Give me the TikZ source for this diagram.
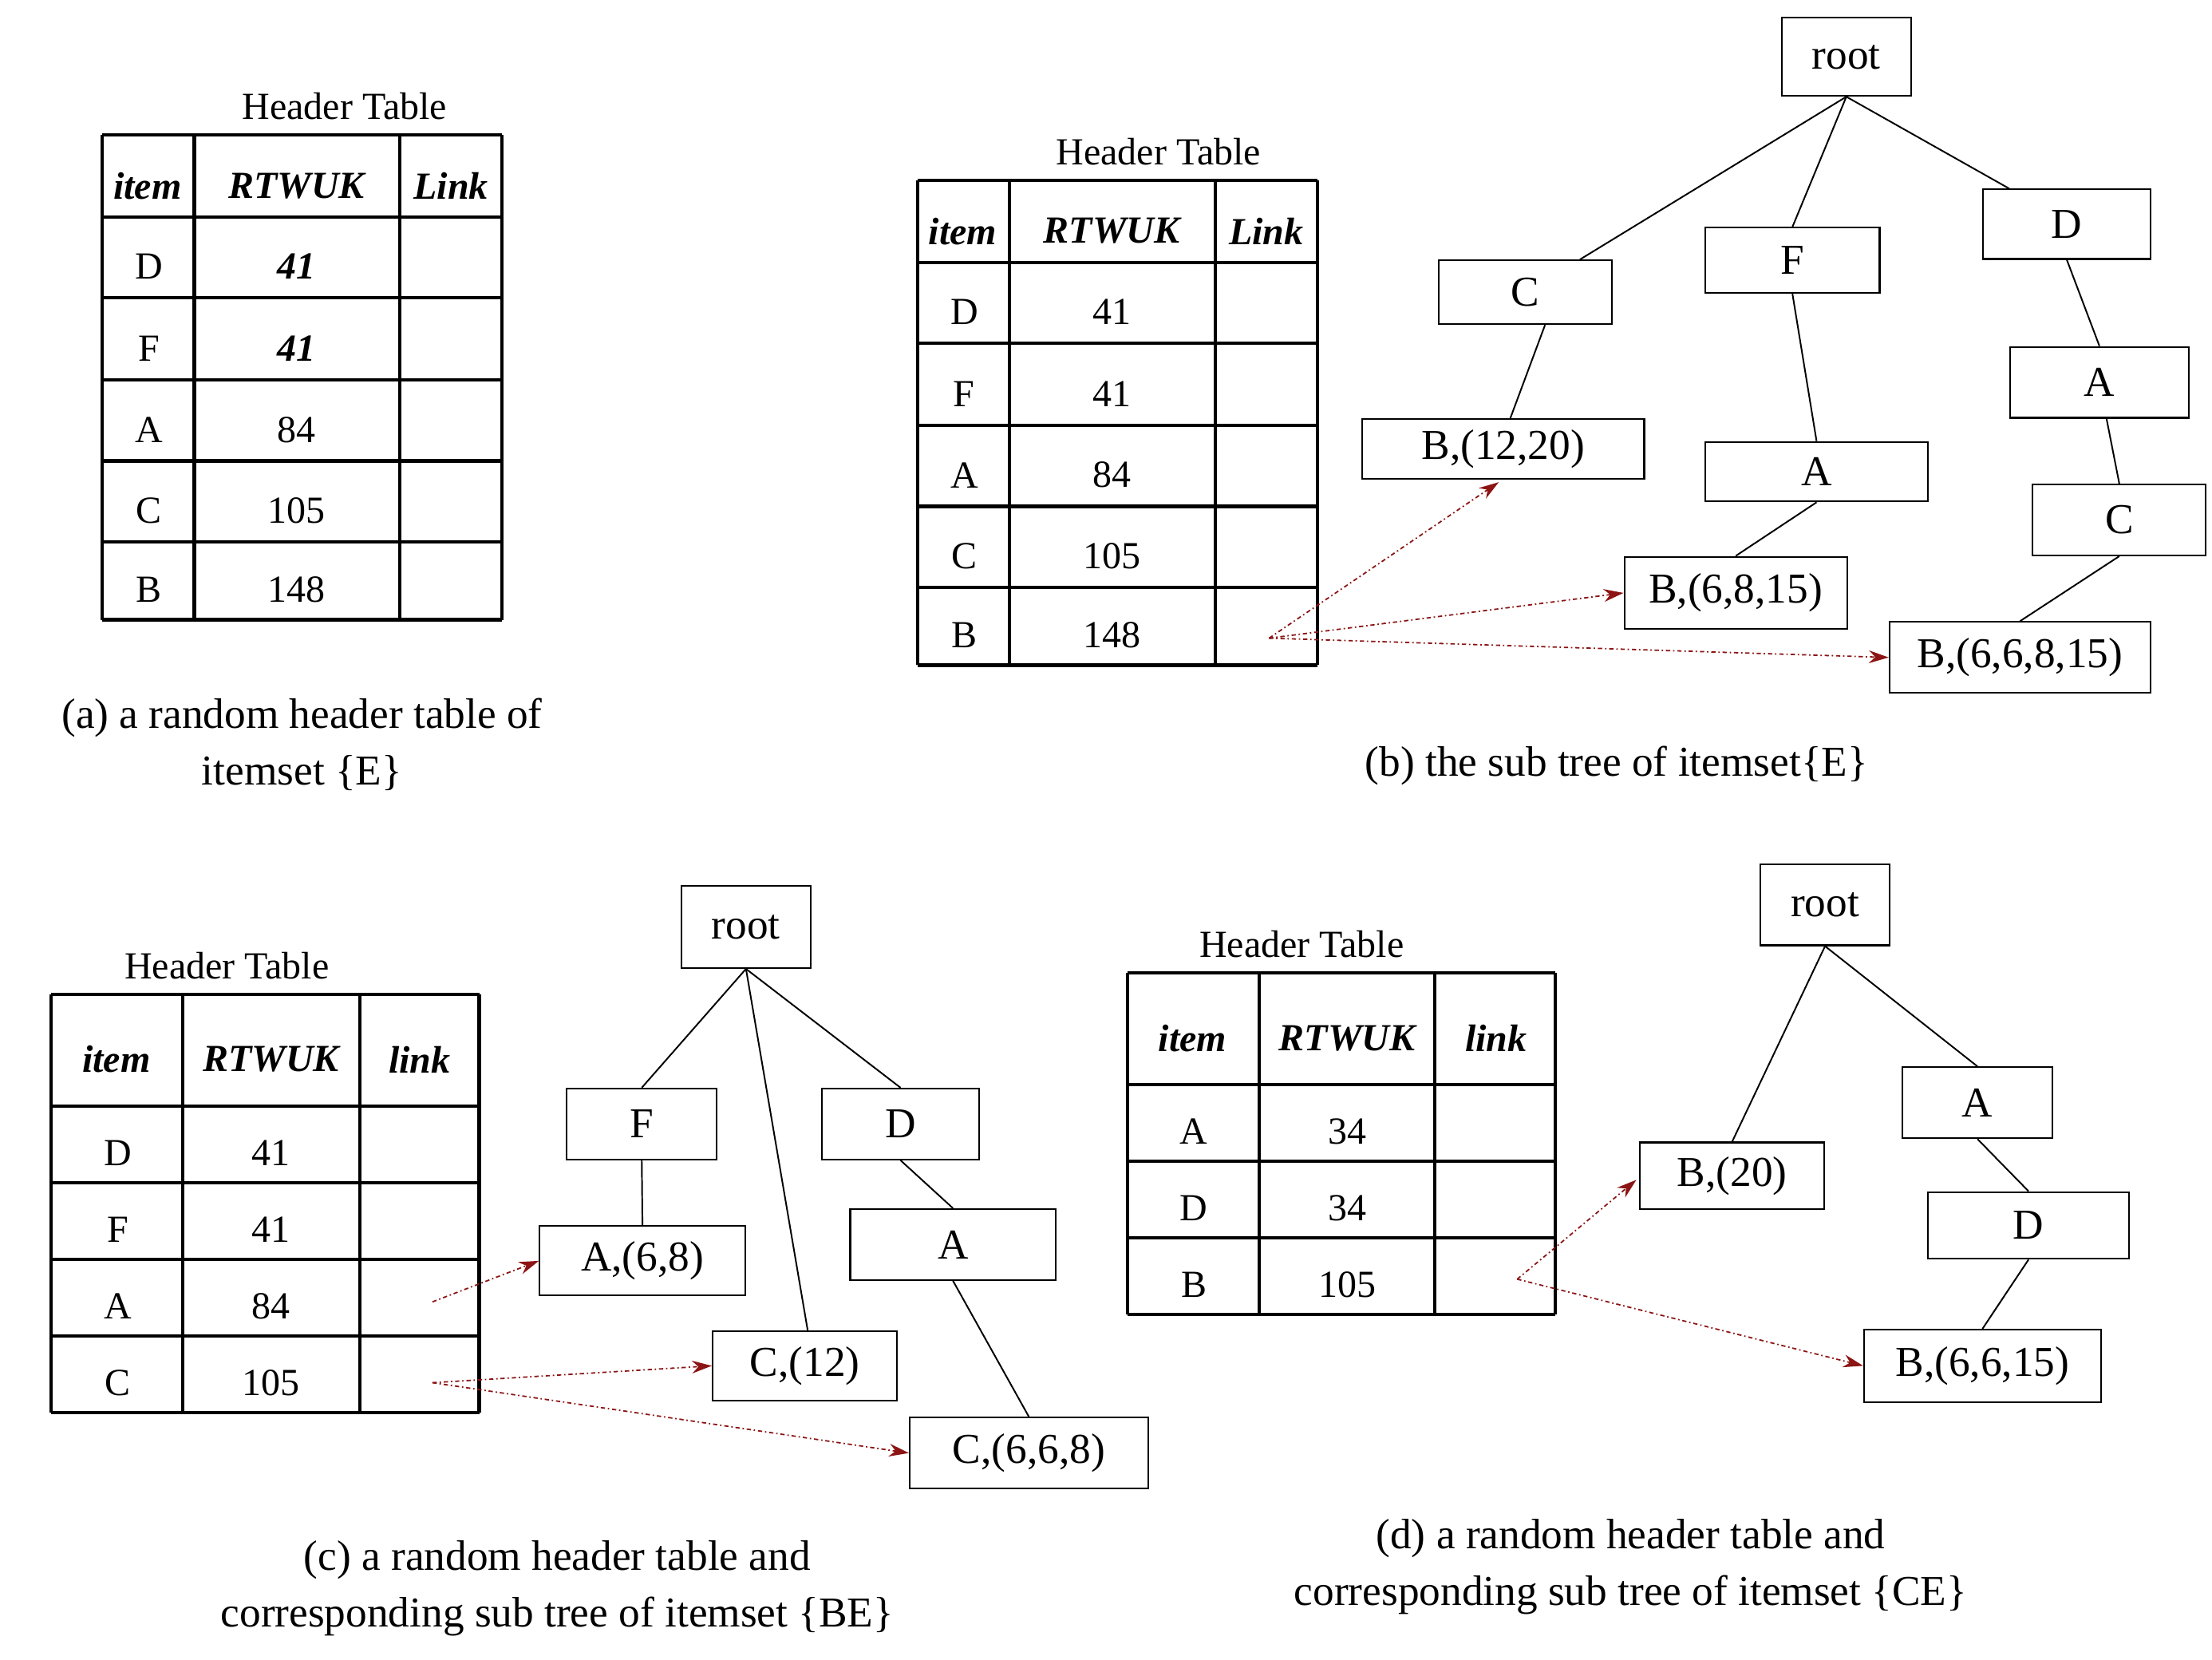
\documentclass[tikz,border=0pt]{standalone}
\usepackage{fontspec}
\setmainfont{Liberation Serif}
\usetikzlibrary{arrows.meta}
\begin{document}
\begin{tikzpicture}[x=1pt,y=-1pt,
 box/.style={draw,line width=1.2pt,inner sep=0pt,anchor=north west,font=\fontsize{30}{34}\selectfont},
 tt/.style={font=\fontsize{27}{30}\selectfont},
 th/.style={font=\fontsize{27}{30}\selectfont\bfseries\itshape},
 captxt/.style={font=\fontsize{30}{40}\selectfont,align=center},
 ed/.style={line width=1.1pt},
 lk/.style={draw={rgb,255:red,140;green,20;blue,20},line width=1pt,dash dot,-{Stealth[length=14pt,width=9pt]}},
 grid/.style={line width=2.4pt}]
\useasboundingbox (0,0) rectangle (1560,1170);
% ---------- (a)
\node[tt] (ha) at (243,75) {Header Table};
\foreach \y in {95,153,210,268,325,382,437} \draw[grid] (72,\y) -- (354,\y);
\foreach \x in {72,137,282,354} \draw[grid] (\x,95) -- (\x,437);
\node[th] (a1) at (104,131) {item}; \node[th] (a2) at (209,131) {RTWUK}; \node[th] (a3) at (318,131) {Link};
\node[tt] (ad) at (105,188) {D}; \node[th] (adv) at (209,188) {41};
\node[tt] (af) at (105,246) {F}; \node[th] (afv) at (209,246) {41};
\node[tt] (aa) at (105,303) {A}; \node[tt] (aav) at (209,303) {84};
\node[tt] (ac) at (105,360) {C}; \node[tt] (acv) at (209,360) {105};
\node[tt] (ab) at (105,416) {B}; \node[tt] (abv) at (209,416) {148};
\node[captxt] (capa) at (213,525) {(a) a random header table of\\itemset \{E\}};
% ---------- (b)
\node[tt] (hb) at (817,107) {Header Table};
\foreach \y in {127,185,242,300,357,414,469} \draw[grid] (647,\y) -- (929,\y);
\foreach \x in {647,712,857,929} \draw[grid] (\x,127) -- (\x,469);
\node[th] (b1) at (679,163) {item}; \node[th] (b2) at (784,163) {RTWUK}; \node[th] (b3) at (893,163) {Link};
\node[tt] (bd) at (680,220) {D}; \node[tt] (bdv) at (784,220) {41};
\node[tt] (bf) at (680,278) {F}; \node[tt] (bfv) at (784,278) {41};
\node[tt] (ba) at (680,335) {A}; \node[tt] (bav) at (784,335) {84};
\node[tt] (bc) at (680,392) {C}; \node[tt] (bcv) at (784,392) {105};
\node[tt] (bb) at (680,448) {B}; \node[tt] (bbv) at (784,448) {148};
\coordinate (bl) at (895,450);
\foreach \n/\xa/\ya/\xb/\yb/\t in {broot/1256/12/1347/67/root, bC/1014/183/1136/228/C, bF/1202/160/1325/206/F, bD/1398/133/1516/182/D, bB1/960/295/1159/337/{B,(12,20)}, bA1/1202/311/1359/353/A, bB2/1145/392/1302/443/{B,(6,8,15)}, bA2/1417/244/1543/294/A, bC2/1433/341/1555/391/C, bB3/1332/438/1516/488/{B,(6,6,8,15)}}
 {\node[box,minimum width=\xb-\xa,minimum height=\yb-\ya] (\n) at (\xa,\ya) {}; \node[font=\fontsize{30}{34}\selectfont] at (\n.center) {\t};}
\draw[ed] (broot.south) -- ([xshift=-23pt]bC.north east);
\draw[ed] (broot.south) -- (bF.north);
\draw[ed] (broot.south) -- ([xshift=19pt]bD.north west);
\draw[ed] ([xshift=14pt]bC.south) -- ([xshift=5pt]bB1.north);
\draw[ed] (bF.south) -- (bA1.north);
\draw[ed] (bA1.south) -- (bB2.north);
\draw[ed] (bD.south) -- (bA2.north);
\draw[ed] ([xshift=5pt]bA2.south) -- (bC2.north);
\draw[ed] (bC2.south) -- (bB3.north);
\draw[lk] (bl) -- (1057,340);
\draw[lk] (bl) -- (bB2.west);
\draw[lk] (bl) -- (bB3.west);
\node[captxt] (capb) at (1140,540) {(b) the sub tree of itemset\{E\}};
% ---------- (c)
\node[tt] (hc) at (160,681) {Header Table};
\foreach \y in {701,780,834,888,942,996} \draw[grid] (36,\y) -- (338,\y);
\foreach \x in {36,129,254,338} \draw[grid] (\x,701) -- (\x,996);
\node[th] (c1) at (82,747) {item}; \node[th] (c2) at (191,747) {RTWUK}; \node[th] (c3) at (296,747) {link};
\node[tt] (cd) at (83,813) {D}; \node[tt] (cdv) at (191,813) {41};
\node[tt] (cf) at (83,867) {F}; \node[tt] (cfv) at (191,867) {41};
\node[tt] (ca) at (83,921) {A}; \node[tt] (cav) at (191,921) {84};
\node[tt] (cc) at (83,975) {C}; \node[tt] (ccv) at (191,975) {105};
\coordinate (cl1) at (305,918); \coordinate (cl2) at (305,975);
\foreach \n/\xa/\ya/\xb/\yb/\t in {croot/480/624/571/682/root, cF/399/767/505/817/F, cD/579/767/690/817/D, cA1/380/864/525/913/{A,(6,8)}, cA2/599/852/744/902/A, cC1/502/938/632/987/{C,(12)}, cC2/641/999/809/1049/{C,(6,6,8)}}
 {\node[box,minimum width=\xb-\xa,minimum height=\yb-\ya] (\n) at (\xa,\ya) {}; \node[font=\fontsize{30}{34}\selectfont] at (\n.center) {\t};}
\draw[ed] (croot.south) -- (cF.north);
\draw[ed] (croot.south) -- (cD.north);
\draw[ed] (croot.south) -- ([xshift=2pt]cC1.north);
\draw[ed] (cF.south) -- (cA1.north);
\draw[ed] (cD.south) -- (cA2.north);
\draw[ed] (cA2.south) -- ([xshift=0pt]cC2.north);
\draw[lk] (cl1) -- (cA1.west);
\draw[lk] (cl2) -- (cC1.west);
\draw[lk] (cl2) -- (cC2.west);
\node[captxt] (capc) at (393,1120) {(c) a random header table and\\corresponding sub tree of itemset \{BE\}};
% ---------- (d)
\node[tt] (hd) at (918,666) {Header Table};
\foreach \y in {686,765,819,873,927} \draw[grid] (795,\y) -- (1097,\y);
\foreach \x in {795,888,1012,1097} \draw[grid] (\x,686) -- (\x,927);
\node[th] (d1) at (841,732) {item}; \node[th] (d2) at (950,732) {RTWUK}; \node[th] (d3) at (1055,732) {link};
\node[tt] (da) at (842,798) {A}; \node[tt] (dav) at (950,798) {34};
\node[tt] (dd) at (842,852) {D}; \node[tt] (ddv) at (950,852) {34};
\node[tt] (db) at (842,906) {B}; \node[tt] (dbv) at (950,906) {105};
\coordinate (dl) at (1070,902);
\foreach \n/\xa/\ya/\xb/\yb/\t in {droot/1241/609/1332/666/root, dB1/1156/805/1286/852/{B,(20)}, dA/1341/752/1447/802/A, dD/1359/840/1501/887/D, dB2/1314/937/1481/988/{B,(6,6,15)}}
 {\node[box,minimum width=\xb-\xa,minimum height=\yb-\ya] (\n) at (\xa,\ya) {}; \node[font=\fontsize{30}{34}\selectfont] at (\n.center) {\t};}
\draw[ed] (droot.south) -- (dB1.north);
\draw[ed] (droot.south) -- (dA.north);
\draw[ed] (dA.south) -- (dD.north);
\draw[ed] (dD.south) -- (dB2.north);
\draw[lk] (dl) -- (1154,832);
\draw[lk] (dl) -- (dB2.west);
\node[captxt] (capd) at (1150,1105) {(d) a random header table and\\corresponding sub tree of itemset \{CE\}};
\end{tikzpicture}
\end{document}
